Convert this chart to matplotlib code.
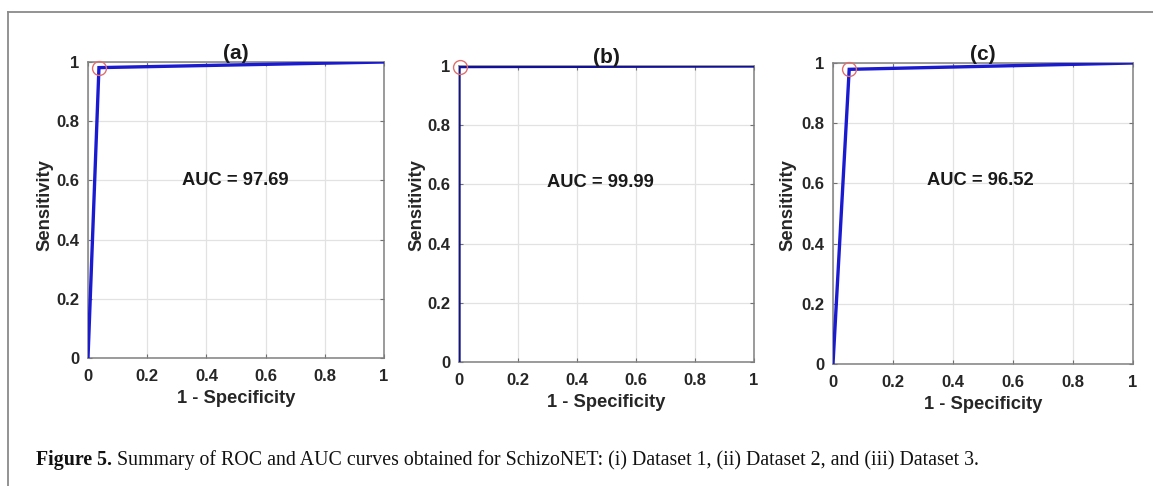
import matplotlib
matplotlib.use("Agg")
import matplotlib.pyplot as plt
from matplotlib.lines import Line2D

# ---- data ----
panel_titles = ["(a)", "(b)", "(c)"]
auc_labels = ["AUC = 97.69", "AUC = 99.99", "AUC = 96.52"]
fpr_a = [0.0, 0.037, 1.0]
tpr_a = [0.0, 0.981, 1.0]
fpr_b = [0.0, 0.0, 1.0]
tpr_b = [0.0, 0.998, 1.0]
fpr_c = [0.0, 0.054, 1.0]
tpr_c = [0.0, 0.979, 1.0]
opt_x = [0.037, 0.003, 0.054]
opt_y = [0.979, 0.998, 0.979]
ticks = [0, 0.2, 0.4, 0.6, 0.8, 1]
tick_labels = ["0", "0.2", "0.4", "0.6", "0.8", "1"]
caption_bold = "Figure 5."
caption_rest = (" Summary of ROC and AUC curves obtained for SchizoNET: (i) Dataset 1, "
                "(ii) Dataset 2, and (iii) Dataset 3.")

W, H = 1153, 486
fig = plt.figure(figsize=(W / 100, H / 100), dpi=100)
fig.patch.set_facecolor("white")

# outer frame (top & left edges visible)
fig.add_artist(Line2D([8 / W, 8 / W], [0, 1 - 12 / H], transform=fig.transFigure,
                      color="#8a8a8a", lw=1.3))
fig.add_artist(Line2D([8 / W, 1], [1 - 12 / H, 1 - 12 / H], transform=fig.transFigure,
                      color="#8a8a8a", lw=1.3))

# axes boxes in pixels: left, top, right, bottom
boxes = [(88, 62, 384, 358), (459, 66, 754, 362), (833, 63, 1133, 364)]
ylab_x = [45, 417, 788]
line_cols = ["#1a1ad0", "#101098", "#1a1ad0"]
auc_pos = [(0.497, 0.60), (0.48, 0.608), (0.49, 0.608)]
curves = [(fpr_a, tpr_a), (fpr_b, tpr_b), (fpr_c, tpr_c)]

font = "Liberation Sans"
for i, (l, t, r, b) in enumerate(boxes):
    ax = fig.add_axes([l / W, 1 - b / H, (r - l) / W, (b - t) / H])
    fx, ty = curves[i]
    ax.plot(fx, ty, color=line_cols[i], lw=2.4, solid_joinstyle="miter", zorder=3)
    ax.plot([opt_x[i]], [opt_y[i]], marker="o", ms=10, mfc="none", mec="#e07070",
            mew=1.0, ls="none", zorder=4, clip_on=False)
    ax.set_xlim(0, 1)
    ax.set_ylim(0, 1)
    ax.set_xticks(ticks)
    ax.set_yticks(ticks)
    ax.set_xticklabels(tick_labels, fontfamily=font, fontweight="bold", fontsize=12,
                       color="#262626")
    ax.set_yticklabels(tick_labels, fontfamily=font, fontweight="bold", fontsize=12,
                       color="#262626")
    ax.tick_params(direction="in", length=3, width=0.8, color="#707070",
                   top=True, right=True)
    ax.tick_params(axis="x", pad=8)
    ax.tick_params(axis="y", pad=6)
    ax.grid(True, color="#e2e2e2", lw=0.9)
    ax.set_axisbelow(True)
    for s in ax.spines.values():
        s.set_color("#808080")
        s.set_linewidth(1.1)
    ax.set_xlabel("1 - Specificity", fontfamily=font, fontweight="bold", fontsize=13.2,
                  color="#262626", labelpad=4)
    ax.set_title(panel_titles[i], fontfamily=font, fontweight="bold", fontsize=15,
                 color="#1a1a1a", pad=2)
    ax.text(auc_pos[i][0], auc_pos[i][1], auc_labels[i], fontfamily=font,
            fontweight="bold", fontsize=13.2, color="#1a1a1a", ha="center", va="center",
            transform=ax.transData)
    fig.text(ylab_x[i] / W, 1 - 205 / H, "Sensitivity", rotation=90, ha="center",
             va="center", fontfamily=font, fontweight="bold", fontsize=13.2, color="#262626")

# caption
cap_size = 14.3
t1 = fig.text(36 / W, 1 - 460 / H, caption_bold, fontfamily="Liberation Serif",
              fontweight="bold", fontsize=cap_size, va="center", ha="left", color="#111111")
fig.canvas.draw()
bb = t1.get_window_extent()
fig.text(bb.x1 / W, 1 - 460 / H, caption_rest, fontfamily="Liberation Serif",
         fontsize=cap_size, va="center", ha="left", color="#111111")

fig.savefig("out.png", dpi=100, facecolor="white")
